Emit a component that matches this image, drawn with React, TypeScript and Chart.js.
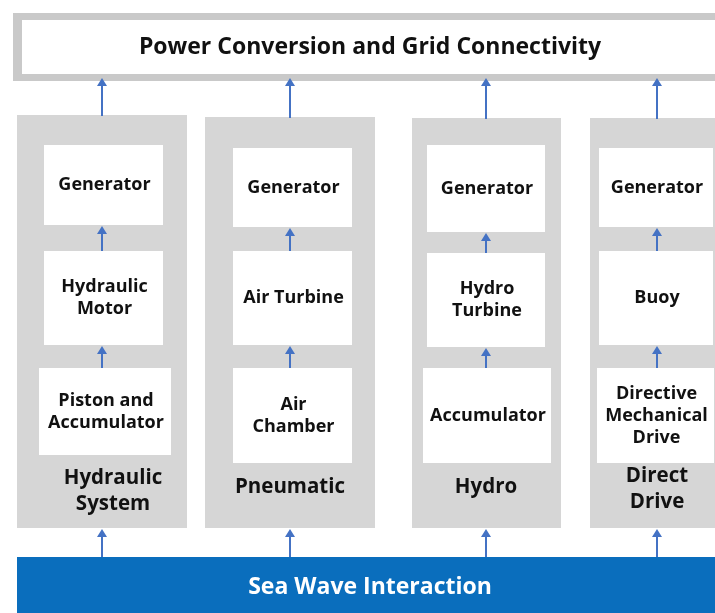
import React, { useEffect, useRef } from "react";
import { Chart, registerables } from "chart.js";

Chart.register(...registerables);

// ---- content (text of the diagram) ----
const TOP_LABEL = "Power Conversion and Grid Connectivity";
const BOTTOM_LABEL = "Sea Wave Interaction";
const SYSTEM_LABELS: string[][] = [["Hydraulic", "System"], ["Pneumatic"], ["Hydro"], ["Direct", "Drive"]];
const GENERATOR_LABELS: string[][] = [["Generator"], ["Generator"], ["Generator"], ["Generator"]];
const CONVERTER_LABELS: string[][] = [["Hydraulic", "Motor"], ["Air Turbine"], ["Hydro", "Turbine"], ["Buoy"]];
const INPUT_LABELS: string[][] = [["Piston and", "Accumulator"], ["Air", "Chamber"], ["Accumulator"], ["Directive", "Mechanical", "Drive"]];

// ---- layout (diagram units on a 715 x 613 grid) ----
const W = 715;
const H = 613;
const COL_X0 = [17, 205, 412, 590];
const COL_X1 = [187, 375, 561, 740];
const COL_TOP = [115, 117, 118, 118];
const COL_BOTTOM = 528;
const ARROW_X = [102, 290, 486, 657];
const GEN_BOX = [[44, 163, 145, 225], [233, 352, 148, 227], [427, 545, 145, 232], [599, 713, 148, 227]];
const CONV_BOX = [[44, 163, 251, 345], [233, 352, 251, 345], [427, 545, 253, 347], [599, 713, 251, 345]];
const INPUT_BOX = [[39, 171, 368, 455], [233, 352, 368, 463], [423, 551, 368, 463], [597, 714, 368, 463]];
const SYS_LABEL_POS = [[113, 491], [290, 487], [486, 487], [657, 489]];

const C_GRAY = "#d6d6d6";
const C_BORDER = "#c9c9c9";
const C_BLUE = "#0a6ebd";
const C_ARROW = "#4472c4";
const FONT = "'Open Sans', 'DejaVu Sans', sans-serif";

const diagramPlugin = {
  id: "diagram",
  afterDraw(chart: any) {
    const ctx: CanvasRenderingContext2D = chart.ctx;
    const xs = chart.scales.x;
    const ys = chart.scales.y;
    const px = (v: number) => xs.getPixelForValue(v);
    const py = (v: number) => ys.getPixelForValue(v);
    const rect = (x0: number, x1: number, y0: number, y1: number, fill: string) => {
      ctx.fillStyle = fill;
      ctx.fillRect(px(x0), py(y0), px(x1) - px(x0), py(y1) - py(y0));
    };
    const text = (lines: string[], cx: number, cy: number, size: number, color: string, lh: number) => {
      ctx.save();
      ctx.fillStyle = color;
      ctx.font = `bold ${size}px ${FONT}`;
      ctx.textAlign = "center";
      ctx.textBaseline = "middle";
      const n = lines.length;
      lines.forEach((l, i) => {
        ctx.fillText(l, px(cx), py(cy + (i - (n - 1) / 2) * lh));
      });
      ctx.restore();
    };
    const arrow = (x: number, yFrom: number, yTo: number) => {
      ctx.save();
      ctx.strokeStyle = C_ARROW;
      ctx.fillStyle = C_ARROW;
      ctx.lineWidth = 2;
      ctx.beginPath();
      ctx.moveTo(px(x), py(yFrom));
      ctx.lineTo(px(x), py(yTo + 7));
      ctx.stroke();
      ctx.beginPath();
      ctx.moveTo(px(x), py(yTo));
      ctx.lineTo(px(x - 5), py(yTo + 8));
      ctx.lineTo(px(x + 5), py(yTo + 8));
      ctx.closePath();
      ctx.fill();
      ctx.restore();
    };

    ctx.save();
    // top box
    rect(13, W + 20, 13, 81, C_BORDER);
    rect(22, W + 20, 20, 74, "#ffffff");
    text([TOP_LABEL], 370, 47, 23, "#111111", 0);

    // bottom band
    rect(17, W + 20, 557, H + 5, C_BLUE);
    text([BOTTOM_LABEL], 370, 587, 23, "#ffffff", 0);

    for (let i = 0; i < SYSTEM_LABELS.length; i++) {
      rect(COL_X0[i], COL_X1[i], COL_TOP[i], COL_BOTTOM, C_GRAY);
      const boxes = [GEN_BOX[i], CONV_BOX[i], INPUT_BOX[i]];
      const labels = [GENERATOR_LABELS[i], CONVERTER_LABELS[i], INPUT_LABELS[i]];
      boxes.forEach((b, k) => {
        rect(b[0], b[1], b[2], b[3], "#ffffff");
        text(labels[k], (b[0] + b[1]) / 2 + 1, (b[2] + b[3]) / 2, 18, "#111111", 22);
      });
      // arrows inside column
      arrow(ARROW_X[i], CONV_BOX[i][2], GEN_BOX[i][3] + 1);
      arrow(ARROW_X[i], INPUT_BOX[i][2], CONV_BOX[i][3] + 1);
      // arrow column -> top box
      arrow(ARROW_X[i], COL_TOP[i] + 1, 78);
      // arrow sea -> column
      arrow(ARROW_X[i], 557, COL_BOTTOM + 1);
      text(SYSTEM_LABELS[i], SYS_LABEL_POS[i][0], SYS_LABEL_POS[i][1], 20.5, "#111111", 26);
    }
    ctx.restore();
  },
};

export default function App() {
  const ref = useRef<HTMLCanvasElement | null>(null);
  useEffect(() => {
    document.body.style.margin = "0";
    const canvas = ref.current!;
    const chart = new Chart(canvas, {
      type: "scatter",
      data: { datasets: [{ data: [], showLine: false }] },
      options: {
        responsive: false,
        animation: false,
        layout: { padding: 0 },
        plugins: { legend: { display: false }, tooltip: { enabled: false } },
        scales: {
          x: { type: "linear", min: 0, max: W, display: false },
          y: { type: "linear", min: 0, max: H, reverse: true, display: false },
        },
      },
      plugins: [diagramPlugin],
    });
    return () => chart.destroy();
  }, []);
  return (
    <div style={{ position: "fixed", left: 0, top: 0, width: W, height: H, background: "#ffffff" }}>
      <canvas ref={ref} width={W} height={H} style={{ width: W, height: H, display: "block" }} />
    </div>
  );
}
